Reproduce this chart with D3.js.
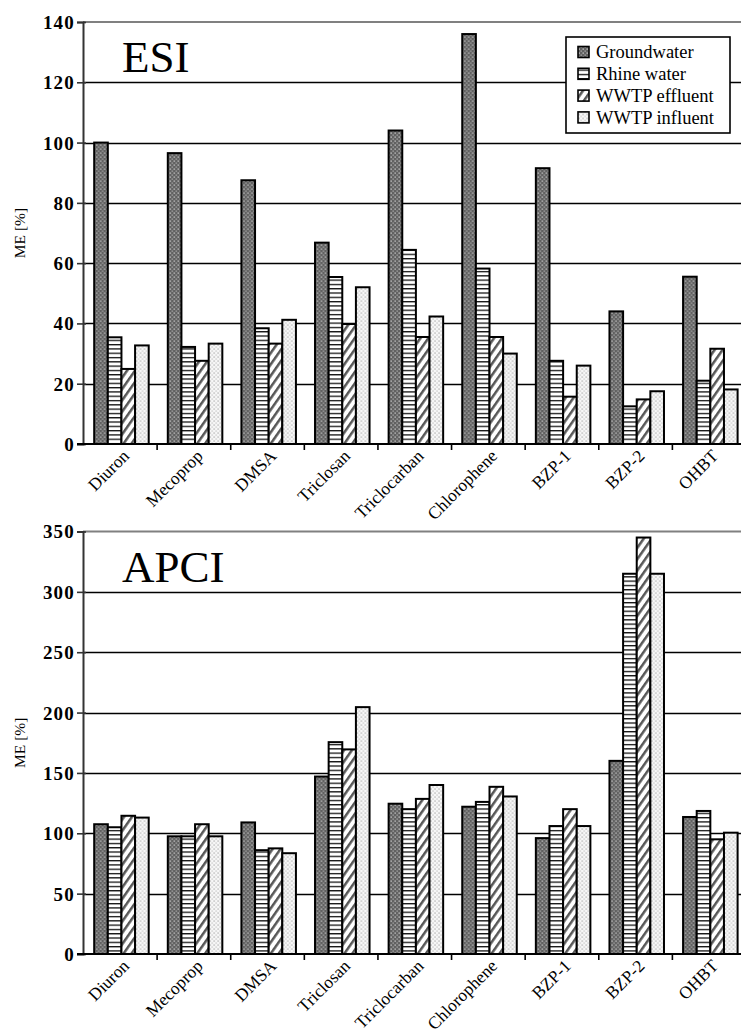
<!DOCTYPE html>
<html>
<head>
<meta charset="utf-8">
<script src="https://cdn.jsdelivr.net/npm/d3@7"></script>
<style>
  html, body { margin: 0; padding: 0; background: #fff; }
  svg { display: block; }
  svg text { font-family: "Liberation Serif", "Times New Roman", serif; fill: #000; }
</style>
</head>
<body>
<svg id="chart" width="741" height="1033"></svg>
<script>
// Compounds on the category axis
const categories = ["Diuron", "Mecoprop", "DMSA", "Triclosan", "Triclocarban", "Chlorophene", "BZP-1", "BZP-2", "OHBT"];
// Sample matrices (one bar each per compound)
const seriesNames = ["Groundwater", "Rhine water", "WWTP effluent", "WWTP influent"];

// Matrix effect (ME, %) with electrospray ionisation
const esiGroundwater = [100, 96.5, 87.5, 66.8, 104, 136, 91.5, 44, 55.5];
const esiRhine       = [35.4, 32.2, 38.4, 55.4, 64.4, 58.2, 27.6, 12.5, 21];
const esiEffluent    = [24.9, 27.6, 33.3, 39.8, 35.5, 35.5, 15.7, 14.8, 31.6];
const esiInfluent    = [32.7, 33.3, 41.2, 52, 42.3, 30, 26, 17.5, 18.1];

// Matrix effect (ME, %) with atmospheric pressure chemical ionisation
const apciGroundwater = [107.5, 97.5, 109, 147, 124.5, 122, 96, 160, 113.5];
const apciRhine       = [105, 97.5, 86, 175.5, 120, 126, 106, 315, 118.5];
const apciEffluent    = [114.5, 107.5, 87.5, 169.5, 128.5, 138.5, 120, 345, 95];
const apciInfluent    = [113, 97.5, 83.5, 204.5, 140, 130.5, 106, 315, 100.5];

// Axis ticks
const esiTicks  = [0, 20, 40, 60, 80, 100, 120, 140];
const apciTicks = [0, 50, 100, 150, 200, 250, 300, 350];

const serif = "Liberation Serif, Times New Roman, serif";
const svg = d3.select("#chart");
const defs = svg.append("defs");

// ---- fill patterns, one per matrix ----
function patGround(id) {
  const p = defs.append("pattern").attr("id", id).attr("patternUnits", "userSpaceOnUse")
    .attr("width", 4).attr("height", 4);
  p.append("rect").attr("width", 4).attr("height", 4).attr("fill", "#616161");
  p.append("rect").attr("x", 0.5).attr("y", 0.5).attr("width", 1.4).attr("height", 1.2).attr("fill", "#cfcfcf");
  p.append("rect").attr("x", 2.5).attr("y", 2.5).attr("width", 1.4).attr("height", 1.2).attr("fill", "#adadad");
}
function patRhine(id) {
  const p = defs.append("pattern").attr("id", id).attr("patternUnits", "userSpaceOnUse")
    .attr("width", 8).attr("height", 4.3);
  p.append("rect").attr("width", 8).attr("height", 4.3).attr("fill", "#fff");
  p.append("rect").attr("y", 0).attr("width", 8).attr("height", 1.3).attr("fill", "#111");
}
function patEffluent(id) {
  const p = defs.append("pattern").attr("id", id).attr("patternUnits", "userSpaceOnUse")
    .attr("width", 6.5).attr("height", 6.5).attr("patternTransform", "rotate(35)");
  p.append("rect").attr("width", 6.5).attr("height", 6.5).attr("fill", "#fff");
  p.append("rect").attr("x", 0).attr("width", 2.5).attr("height", 6.5).attr("fill", "#575757");
}
function patInfluent(id) {
  const p = defs.append("pattern").attr("id", id).attr("patternUnits", "userSpaceOnUse")
    .attr("width", 4).attr("height", 4);
  p.append("rect").attr("width", 4).attr("height", 4).attr("fill", "#f7f7f7");
  p.append("rect").attr("x", 0.5).attr("y", 0.5).attr("width", 1.1).attr("height", 1.1).attr("fill", "#8c8c8c");
  p.append("rect").attr("x", 2.5).attr("y", 2.5).attr("width", 1.1).attr("height", 1.1).attr("fill", "#b0b0b0");
}
patGround("p-ground"); patRhine("p-rhine"); patEffluent("p-eff"); patInfluent("p-inf");
const fills = d3.scaleOrdinal().domain(seriesNames)
  .range(["url(#p-ground)", "url(#p-rhine)", "url(#p-eff)", "url(#p-inf)"]);

// ---- one panel ----
function panel(opts) {
  const { top, bottom, left, right, max, ticks, title, series, legend } = opts;
  const g = svg.append("g");

  const x0 = d3.scaleBand().domain(categories).range([left + 0.5, right]).paddingInner(0).paddingOuter(0);
  const x1 = d3.scaleBand().domain(seriesNames).range([0, x0.bandwidth()])
    .paddingInner(0).paddingOuter(0.7).align(0.56);
  const y = d3.scaleLinear().domain([0, max]).range([bottom, top]);

  // gridlines
  g.append("g").selectAll("line").data(ticks.filter(t => t > 0 && t < max)).join("line")
    .attr("x1", left).attr("x2", right)
    .attr("y1", d => Math.round(y(d)) + 0.5).attr("y2", d => Math.round(y(d)) + 0.5)
    .attr("stroke", "#000").attr("stroke-width", 1.4);
  // top border of the plot area
  g.append("line").attr("x1", left).attr("x2", right)
    .attr("y1", y(max)).attr("y2", y(max))
    .attr("stroke", "#808080").attr("stroke-width", 2);

  // bars
  const rows = categories.map((c, i) => ({ c, vals: seriesNames.map((s, k) => ({ s, v: series[k][i] })) }));
  g.append("g").selectAll("g").data(rows).join("g")
    .attr("transform", d => `translate(${x0(d.c)},0)`)
    .selectAll("rect").data(d => d.vals).join("rect")
    .attr("x", d => x1(d.s))
    .attr("y", d => y(d.v))
    .attr("width", x1.bandwidth())
    .attr("height", d => y(0) - y(d.v))
    .attr("fill", d => fills(d.s))
    .attr("stroke", "#000").attr("stroke-width", 2);

  // y axis
  const yAxis = d3.axisLeft(y).tickValues(ticks).tickSize(6).tickPadding(2).tickFormat(d3.format("d"));
  const ya = g.append("g").attr("transform", `translate(${left},0)`).call(yAxis);
  ya.attr("font-family", serif);
  ya.select(".domain").attr("stroke", "#333").attr("stroke-width", 2);
  ya.selectAll(".tick line").attr("stroke", "#333").attr("stroke-width", 1.6).attr("x2", -6).attr("x1", 3);
  ya.selectAll(".tick text").attr("font-family", serif)
    .attr("font-size", 19).attr("font-weight", "bold").attr("letter-spacing", 1.2).attr("dy", "0.34em");

  // x axis
  const xAxis = d3.axisBottom(x0).tickSize(0).tickFormat("");
  const xa = g.append("g").attr("transform", `translate(0,${bottom})`).call(xAxis);
  xa.attr("font-family", serif);
  xa.select(".domain").attr("d", `M${left - 6},0H${right}`).attr("stroke", "#000").attr("stroke-width", 2);
  // category boundary ticks
  xa.append("g").selectAll("line").data(categories.slice(1)).join("line")
    .attr("x1", d => x0(d)).attr("x2", d => x0(d))
    .attr("y1", 0).attr("y2", 6).attr("stroke", "#000").attr("stroke-width", 1.6);
  // rotated category labels
  xa.append("g").selectAll("text").data(categories).join("text")
    .attr("transform", d => `translate(${x0(d) + x0.bandwidth() / 2 + 10},${13}) rotate(-45)`)
    .attr("text-anchor", "end")
    .attr("font-family", serif)
    .attr("font-size", 17.5)
    .text(d => d);

  // y axis title
  g.append("text")
    .attr("transform", `translate(25,${(top + bottom) / 2}) rotate(-90)`)
    .attr("text-anchor", "middle").attr("font-family", serif).attr("font-size", 15.5)
    .text("ME [%]");

  // panel title
  g.append("text").attr("x", 122).attr("y", top + opts.titleDy)
    .attr("font-family", serif).attr("font-size", 45).text(title);

  if (legend) {
    const lg = g.append("g").attr("transform", `translate(566,${top + 15})`);
    lg.append("rect").attr("width", 164).attr("height", 96)
      .attr("fill", "#fff").attr("stroke", "#000").attr("stroke-width", 1.6);
    const it = lg.selectAll("g").data(seriesNames).join("g")
      .attr("transform", (d, i) => `translate(12,${15 + i * 21.8})`);
    it.append("rect").attr("x", 0).attr("y", -5.5).attr("width", 11).attr("height", 11)
      .attr("fill", d => fills(d)).attr("stroke", "#000").attr("stroke-width", 1.6);
    it.append("text").attr("x", 18).attr("y", 0).attr("dy", "0.34em")
      .attr("font-family", serif).attr("font-size", 18.5).text(d => d);
  }
}

panel({
  top: 22, bottom: 444, left: 83, right: 746, max: 140, ticks: esiTicks, title: "ESI", titleDy: 50,
  series: [esiGroundwater, esiRhine, esiEffluent, esiInfluent], legend: true
});
panel({
  top: 531.5, bottom: 954, left: 83, right: 746, max: 350, ticks: apciTicks, title: "APCI", titleDy: 50,
  series: [apciGroundwater, apciRhine, apciEffluent, apciInfluent], legend: false
});
</script>
</body>
</html>
